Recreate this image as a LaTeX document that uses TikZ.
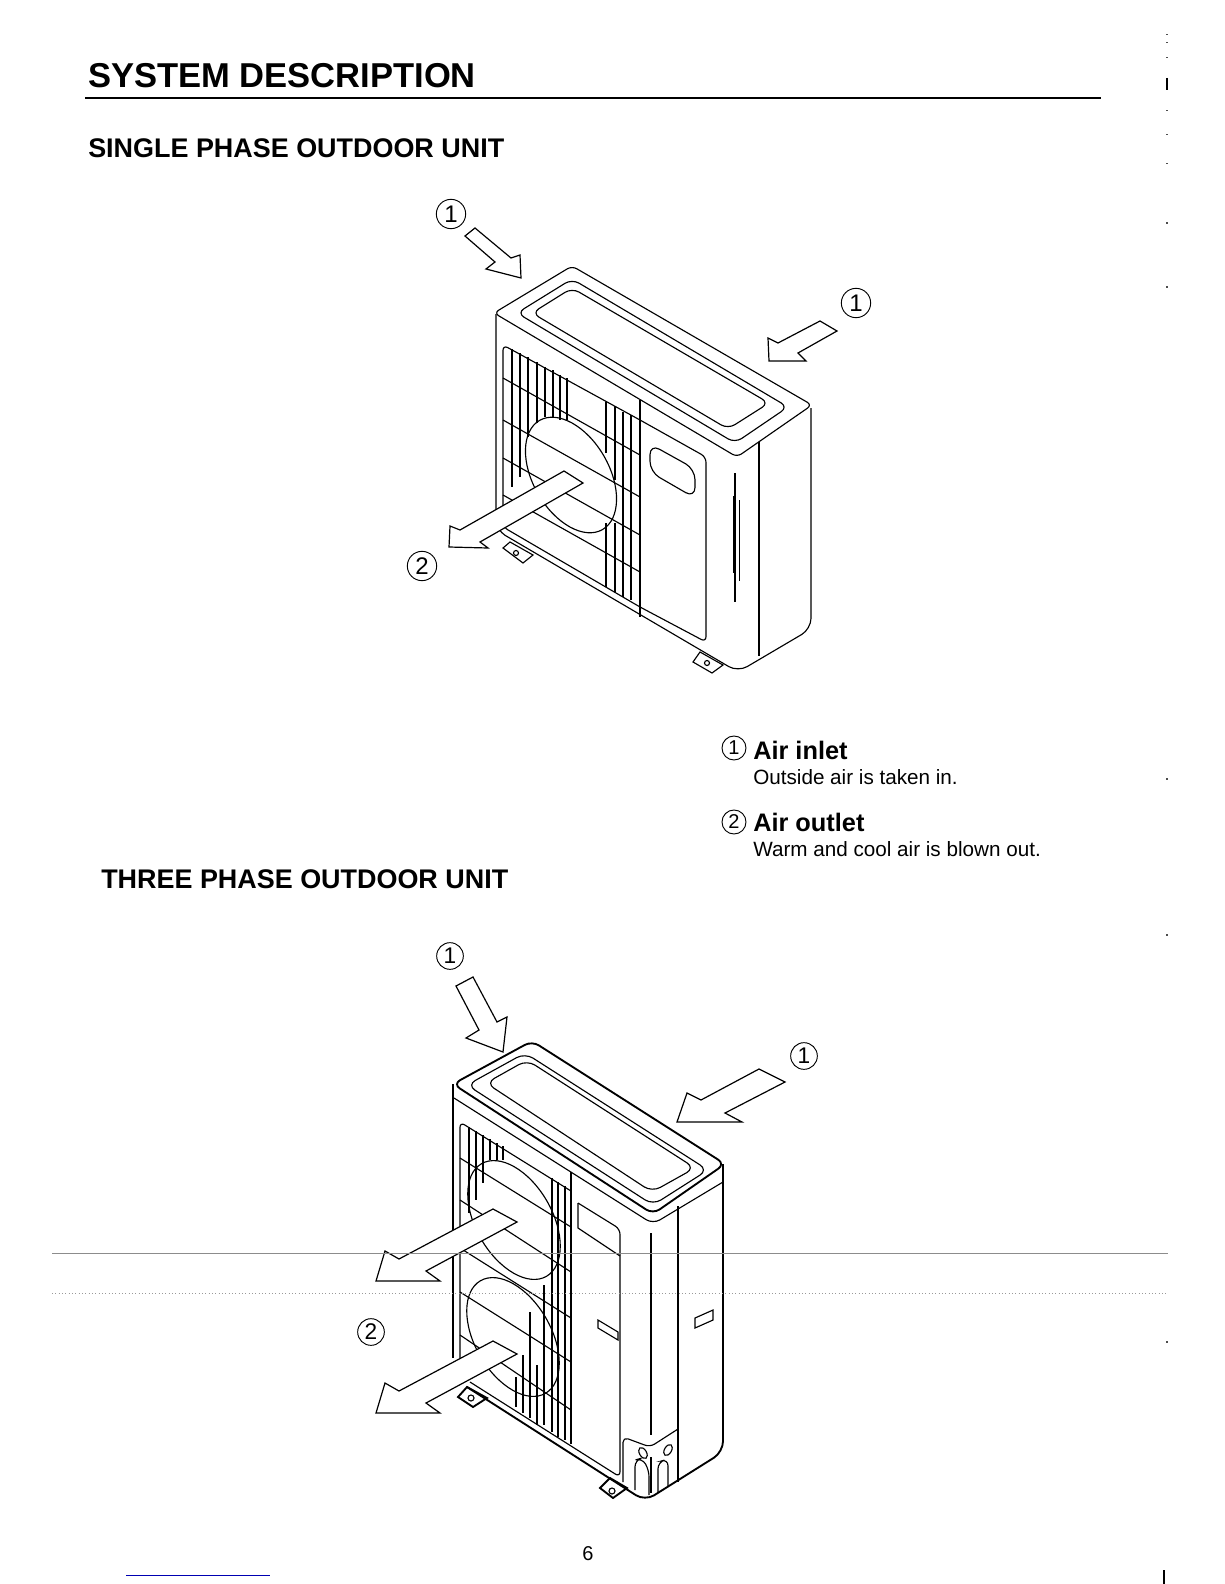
\documentclass[tikz,border=0pt]{standalone}
\usepackage{fontspec}
\setmainfont{Liberation Sans}
\tikzset{
  unitline/.style={line width=0.85pt},
  heavyline/.style={line width=1.4pt},
  slotline/.style={line width=0.5pt},
  airarrow/.style={draw,fill=white,line width=0.9pt,miter limit=20},
  numcirc/.style={draw,circle,line width=0.7pt,inner sep=0pt,minimum size=22pt,font=\fontsize{18}{18}\selectfont},
  headtext/.style={anchor=west,inner sep=0pt,font=\bfseries\fontsize{20.2}{20}\selectfont},
  legendhead/.style={anchor=west,inner sep=0pt,font=\bfseries\fontsize{19}{19}\selectfont},
  legendtext/.style={anchor=west,inner sep=0pt,font=\fontsize{15.5}{15}\selectfont}
}
\begin{document}
\begin{tikzpicture}[x=0.75pt,y=0.75pt,yscale=-1,xscale=1]
\useasboundingbox (0,0) rectangle (1224,1584);

% Text Node
\node (title) [headtext,font=\bfseries\fontsize{25.9}{26}\selectfont] at (88,76) {SYSTEM DESCRIPTION};
\node (singlehead) [headtext] at (88,148) {SINGLE PHASE OUTDOOR UNIT};
\node (threehead) [headtext] at (101,879) {THREE PHASE OUTDOOR UNIT};
%Straight Lines
\draw [line width=1pt] (85,98) -- (1101,98);

%Shape: single phase top face
\draw [unitline,rounded corners=4pt] (494,313) -- (572,266) -- (812,405) -- (737,457) -- cycle;
\draw [unitline,rounded corners=6pt] (517,313) -- (572,279) -- (788,407) -- (735,443) -- cycle;
\draw [unitline,rounded corners=6pt] (532,313) -- (572,288) -- (769,403) -- (728,429) -- cycle;
%Shape: single phase body
\draw [unitline,rounded corners=8pt] (496,314) -- (496,530) -- (738,672) -- (811,629) -- (811,408);
\draw [unitline] (759,442) -- (759,656);
\draw [unitline] (640,400) -- (640,617);
%Shape: single phase grille and panel
\draw [unitline,rounded corners=4pt] (503,527) -- (503,345) -- (640,420) -- (706,457) -- (706,642) -- (640,607) -- cycle;
\draw [unitline,rounded corners=8pt] (650,444) -- (695,469) -- (695,498) -- (650,472) -- cycle;
\foreach \ya/\yb in {378/455,420/497,458/535,495/572}
  \draw [unitline] (503,\ya) -- (640,\yb);
\foreach \x/\ya/\yb in {512/349/487,520/353/477,528/357/437,537/362/423,545/367/417,553/370/417,560/375/420,567/378/420,606/402/453,606/523/587,615/406/480,615/523/592,623/412/597,631/415/600}
  \draw [unitline] (\x,\ya) -- (\x,\yb);
\draw [unitline] (571,475) ellipse [x radius=63,y radius=38,rotate=60];
%Straight Lines: side slots
\draw [unitline] (735,473) -- (735,602);
\draw [slotline] (733,496) -- (733,573);
\draw [slotline] (739,500) -- (739,581);
%Shape: single phase feet
\draw [unitline] (503,548) -- (510,542) -- (533,555) -- (523,563) -- cycle;
\draw [unitline] (516,553) circle (2.5);
\draw [unitline] (693,662) -- (700,652) -- (723,665) -- (712,673) -- cycle;
\draw [unitline] (707,663) circle (2.5);
%Shape: single phase arrows
\draw [airarrow] (475,228) -- (511,258) -- (520,255) -- (521,278) -- (486,269) -- (495,262) -- (465,236) -- cycle;
\draw [airarrow] (820,321) -- (778,343) -- (768,338) -- (769,361) -- (806,361) -- (798,353) -- (837,331) -- cycle;
\draw [airarrow] (564,471) -- (460,530) -- (450,526) -- (449,547) -- (488,548) -- (480,542) -- (583,483) -- cycle;
% Text Node
\node (singleina) [numcirc] at (451,214) {1};
\node (singleinb) [numcirc] at (856,303) {1};
\node (singleout) [numcirc] at (422,566) {2};

%Shape: legend
\node (legendone) [numcirc,minimum size=18pt,font=\fontsize{15}{15}\selectfont] at (734,748) {1};
\node (legendinlet) [legendhead] at (753,750) {Air inlet};
\node (legendinletnote) [legendtext] at (753,777) {Outside air is taken in.};
\node (legendtwo) [numcirc,minimum size=18pt,font=\fontsize{15}{15}\selectfont] at (734,822) {2};
\node (legendoutlet) [legendhead] at (753,822) {Air outlet};
\node (legendoutletnote) [legendtext] at (753,849) {Warm and cool air is blown out.};

%Shape: three phase top face
\draw [heavyline,rounded corners=6pt] (453,1084) -- (532,1041) -- (725,1164) -- (653,1214) -- cycle;
\draw [unitline,rounded corners=7pt] (467,1085) -- (525,1053) -- (708,1170) -- (653,1205) -- cycle;
\draw [unitline,rounded corners=7pt] (486,1083) -- (527,1060) -- (695,1168) -- (652,1192) -- cycle;
\draw [unitline,rounded corners=6pt] (454,1098) -- (653,1224) -- (723,1182);
%Shape: three phase body
\draw [heavyline] (453,1084) -- (453,1358);
\draw [heavyline,rounded corners=8pt] (723,1164) -- (723,1452) -- (645,1501) -- (467,1387);
\draw [unitline] (678,1206) -- (678,1482);
\draw [unitline] (651,1233) -- (651,1435);
\draw [unitline] (651,1457) -- (651,1493);
\draw [unitline] (571,1172) -- (571,1444);
%Shape: three phase grille and panel
\draw [unitline,rounded corners=4pt] (460,1360) -- (460,1122) -- (571,1191);
\draw [unitline,rounded corners=4pt] (578,1203) -- (620,1229) -- (620,1477) -- (470,1382);
\draw [unitline] (578,1203) -- (578,1228) -- (620,1256);
\foreach \ya/\yb in {1158/1227,1200/1272,1248/1318,1292/1362,1335/1410}
  \draw [unitline] (460,\ya) -- (571,\yb);
\foreach \x/\ya/\yb in {469/1127/1213,476/1131/1200,483/1135/1183,490/1139/1160,497/1143/1160,503/1146/1160,552/1178/1432,558/1182/1437,565/1186/1440,516/1377/1407,523/1355/1413,530/1312/1418,537/1365/1425,544/1285/1425}
  \draw [unitline] (\x,\ya) -- (\x,\yb);
\draw [unitline] (514,1220) ellipse [x radius=65,y radius=38,rotate=60];
\draw [unitline] (513,1337) ellipse [x radius=65,y radius=38,rotate=60];
%Shape: three phase vents
\draw [unitline] (598,1320) -- (618,1332) -- (618,1340) -- (598,1328) -- cycle;
\draw [unitline] (695,1318) -- (713,1310) -- (713,1320) -- (695,1328) -- cycle;
%Shape: three phase corner cover
\draw [unitline,rounded corners=4pt] (623,1482) -- (623,1437) -- (650,1447) -- (678,1429);
\draw [unitline,rounded corners=5pt] (635,1490) -- (635,1460) -- (642,1458) -- (649,1470) -- (649,1495);
\draw [unitline,rounded corners=5pt] (658,1493) -- (658,1462) -- (668,1459) -- (668,1487);
\draw [unitline] (643,1453) ellipse [x radius=6,y radius=3.5,rotate=60];
\draw [unitline] (668,1450) ellipse [x radius=6,y radius=3.5,rotate=-60];
%Shape: three phase feet
\draw [heavyline] (458,1397) -- (467,1387) -- (487,1398) -- (473,1407) -- cycle;
\draw [unitline] (471,1398) circle (3);
\draw [heavyline] (600,1488) -- (610,1478) -- (627,1488) -- (613,1498) -- cycle;
\draw [unitline] (612,1491) circle (3);
%Shape: three phase arrows
\draw [airarrow] (473,977) -- (497,1022) -- (507,1017) -- (503,1052) -- (466,1038) -- (479,1030) -- (456,986) -- cycle;
\draw [airarrow] (759,1069) -- (701,1100) -- (687,1093) -- (677,1122) -- (742,1122) -- (725,1113) -- (785,1082) -- cycle;
\draw [airarrow] (493,1209) -- (399,1259) -- (385,1251) -- (376,1281) -- (440,1281) -- (426,1271) -- (517,1222) -- cycle;
\draw [airarrow] (493,1341) -- (399,1391) -- (385,1383) -- (376,1413) -- (440,1413) -- (426,1403) -- (517,1354) -- cycle;
% Text Node
\node (threeina) [numcirc,minimum size=20pt,font=\fontsize{17}{17}\selectfont] at (450,956) {1};
\node (threeinb) [numcirc,minimum size=20pt,font=\fontsize{17}{17}\selectfont] at (804,1056) {1};
\node (threeout) [numcirc,minimum size=20pt,font=\fontsize{17}{17}\selectfont] at (371,1332) {2};

% Text Node
\node (pageno) [inner sep=0pt,font=\fontsize{15}{15}\selectfont] at (588,1554) {6};

%Straight Lines: scan marks
\draw [black!45,line width=0.7pt] (52,1253) -- (1168,1253);
\draw [black!40,line width=0.5pt,dotted] (52,1293) -- (1168,1293);
\draw [blue!70!black,line width=0.6pt] (126,1575) -- (270,1575);
\draw [black,line width=1pt] (1167,78) -- (1167,90);
\draw [black,line width=1pt] (1164,1570) -- (1164,1584);
\foreach \y in {34,42,57,110,134,163,222,286,778,934,1341}
  \fill [black!70] (1166,\y) rectangle ++(2,1.5);
\end{tikzpicture}
\end{document}
